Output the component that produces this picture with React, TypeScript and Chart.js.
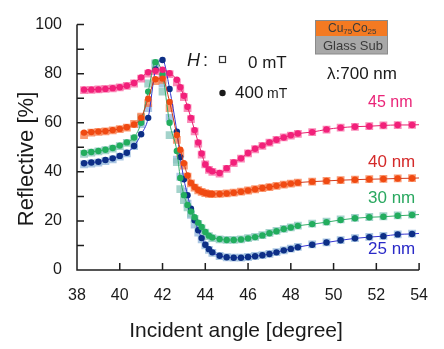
import { useEffect, useRef } from "react";
import { Chart, registerables } from "chart.js";

Chart.register(...registerables);

// Incident angles [degree]
const angles = [
  38.33, 38.67, 39, 39.33, 39.67, 40, 40.33, 40.67, 41, 41.33, 41.67, 42, 42.33, 42.67,
  42.83, 43, 43.17, 43.33, 43.5, 43.67, 43.83, 44, 44.17, 44.33,
  44.67, 45, 45.33, 45.67, 46, 46.33, 46.67, 47, 47.33, 47.67, 48, 48.33,
  49, 49.67, 50.33, 51, 51.67, 52.33, 53, 53.67, 54,
];

// 45 nm
const r45_400 = [
  73.5, 73.5, 73.6, 73.8, 74.1, 74.5, 75.1, 76.2, 78.5, 80.6, 81.2, 81.6, 80.2, 77.5,
  74.5, 71.0, 66.5, 62.0, 57.0, 52.0, 47.5, 43.0, 41.0, 40.2,
  39.5, 41.5, 43.8, 45.5, 47.7, 49.4, 50.7, 52.0, 53.1, 54.0, 54.9, 55.6,
  56.2, 57.3, 58.0, 58.4, 58.6, 58.9, 59.1, 59.1, 59.2,
];
const r45_0 = [
  73.3, 73.4, 73.6, 73.8, 74.0, 74.4, 75.0, 76.0, 78.0, 80.0, 81.0, 79.5, 79.8, 76.5,
  74.0, 70.5, 66.0, 61.5, 56.5, 51.5, 47.0, 43.0, 40.8, 40.0,
  39.3, 41.2, 43.6, 45.4, 47.5, 49.2, 50.6, 51.9, 53.0, 54.0, 54.8, 55.5,
  56.2, 57.2, 58.0, 58.3, 58.6, 58.9, 59.0, 59.1, null,
];
// 40 nm
const r40_400 = [
  56.0, 56.2, 56.4, 56.6, 57.0, 57.5, 58.2, 59.3, 62.0, 69.8, 77.7, 78.0, 68.5, 55.0,
  49.0, 43.5, 38.5, 35.5, 33.8, 32.6, 31.9, 31.4, 31.1, 31.0,
  31.0, 31.2, 31.5, 31.9, 32.4, 32.9, 33.4, 33.8, 34.3, 34.8, 35.2, 35.6,
  36.0, 36.3, 36.6, 36.8, 37.0, 37.1, 37.3, 37.4, 37.5,
];
const r40_0 = [
  55.0, 56.0, 56.3, 56.5, 56.9, 57.4, 58.0, 59.5, 62.5, 68.0, 77.0, 77.5, 66.0, 53.0,
  47.5, 42.5, 38.0, 35.3, 33.6, 32.5, 31.8, 31.3, 31.0, 30.9,
  31.0, 31.2, 31.5, 31.9, 32.4, 32.9, 33.4, 33.8, 34.3, 34.8, 35.2, 35.6,
  36.0, 36.3, 36.6, 36.8, 37.0, 37.1, 37.3, 37.4, null,
];
// 30 nm
const r30_400 = [
  47.8, 48.1, 48.5, 49.0, 49.7, 50.7, 52.0, 54.0, 60.0, 72.7, 84.7, 79.7, 60.0, 48.5,
  37.5, 30.5, 26.5, 23.8, 21.5, 19.3, 17.5, 15.5, 14.0, 13.2,
  12.6, 12.2, 12.2, 12.4, 12.9, 13.4, 14.1, 15.0, 15.8, 16.7, 17.3, 18.0,
  18.7, 19.5, 20.4, 21.1, 21.5, 21.7, 22.1, 22.4, 22.6,
];
const r30_0 = [
  47.3, 47.8, 48.3, 48.8, 49.5, 50.5, 51.8, 53.5, 62.0, 76.0, 84.3, 72.7, 55.0, 44.0,
  33.0, 28.5, 25.5, 23.0, 20.8, 18.8, 17.0, 15.2, 13.8, 13.0,
  12.5, 12.3, 12.3, 12.5, 13.0, 13.5, 14.2, 15.1, 15.9, 16.8, 17.4, 18.1,
  18.9, 19.7, 20.6, 21.2, 21.6, 21.9, 22.3, 22.6, null,
];
// 25 nm
const r25_400 = [
  43.5, 43.8, 44.1, 44.8, 45.5, 46.5, 47.8, 50.5, 55.3, 62.0, 81.7, 85.6, 73.8, 56.4,
  46.0, 37.0, 30.5, 25.0, 20.3, 16.2, 13.0, 10.3, 8.5, 7.2,
  5.8, 5.2, 5.0, 5.0, 5.3, 5.6, 6.0, 6.5, 7.2, 8.0, 8.6, 9.3,
  10.3, 11.2, 12.1, 12.9, 13.4, 13.8, 14.5, 14.7, 14.9,
];
const r25_0 = [
  43.0, 43.4, 43.8, 44.4, 45.1, 46.2, 47.5, 50.5, 59.5, 66.0, 84.0, 76.0, 62.0, 45.0,
  38.0, 32.0, 27.0, 22.5, 18.5, 15.2, 12.5, 10.0, 8.2, 7.0,
  5.7, 5.2, 5.0, 5.0, 5.3, 5.7, 6.1, 6.6, 7.3, 8.0, 8.7, 9.4,
  10.4, 11.3, 12.2, 13.0, 13.5, 13.9, 14.5, 14.8, null,
];

const thicknessLabels = ["45 nm", "40 nm", "30 nm", "25 nm"];
const labelAt = [103, 162, 198.5, 249.5]; // label vertical centres, in px
const xTicks = [38, 40, 42, 44, 46, 48, 50, 52, 54];
const yTicks = [0, 20, 40, 60, 80, 100];

const FONT = '"Liberation Sans", Arial, sans-serif';

const series = [
  { v400: r45_400, v0: r45_0, dot: "#f2207a", sq: "rgba(248,100,160,0.75)", line: "#e8206e", text: "#ea2478" },
  { v400: r40_400, v0: r40_0, dot: "#f04a12", sq: "rgba(248,120,70,0.75)", line: "#d23a1c", text: "#d42a2a" },
  { v400: r30_400, v0: r30_0, dot: "#22ad5e", sq: "rgba(140,200,190,0.8)", line: "#34ad6a", text: "#2aa860" },
  { v400: r25_400, v0: r25_0, dot: "#0d2f86", sq: "rgba(150,185,220,0.8)", line: "#3535d0", text: "#2a2ac8" },
];

const pts = (vals: (number | null)[]) => angles.map((a, i) => ({ x: a, y: vals[i] }));

const overlay = {
  id: "overlay",
  afterDraw(chart: any) {
    const { ctx } = chart;
    const xs = chart.scales.x;
    const ys = chart.scales.y;
    const x0 = xs.getPixelForValue(38);
    const x1 = xs.getPixelForValue(54);
    const y0 = ys.getPixelForValue(0);
    const y1 = ys.getPixelForValue(100);
    ctx.save();
    ctx.strokeStyle = "#1e1e1e";
    ctx.lineWidth = 1.5;
    ctx.beginPath();
    ctx.moveTo(x0, y1);
    ctx.lineTo(x0, y0);
    ctx.lineTo(x1, y0);
    for (let v = 10; v <= 100; v += 10) {
      const py = ys.getPixelForValue(v);
      ctx.moveTo(x0, py);
      ctx.lineTo(x0 + 7, py);
    }
    xTicks.slice(1).forEach((v) => {
      const px = xs.getPixelForValue(v);
      ctx.moveTo(px, y0);
      ctx.lineTo(px, y0 - 7);
    });
    ctx.stroke();

    // axis titles
    ctx.fillStyle = "#1a1a1a";
    ctx.textAlign = "center";
    ctx.textBaseline = "middle";
    ctx.font = `21px ${FONT}`;
    ctx.fillText("Incident angle [degree]", (x0 + x1) / 2 - 12, 331);
    ctx.save();
    ctx.translate(27, 159);
    ctx.rotate(-Math.PI / 2);
    ctx.font = `22px ${FONT}`;
    ctx.fillText("Reflective [%]", 0, 0);
    ctx.restore();

    // thickness labels
    ctx.textAlign = "left";
    thicknessLabels.forEach((t, i) => {
      ctx.fillStyle = series[i].text;
      ctx.font = `${i === 0 ? 16 : 17}px ${FONT}`;
      ctx.fillText(t, 368, labelAt[i]);
    });

    // sample stack box
    ctx.fillStyle = "#f47a22";
    ctx.fillRect(315.5, 20.5, 72, 15.5);
    ctx.fillStyle = "#a8a8a8";
    ctx.fillRect(315.5, 36, 72, 18);
    ctx.strokeStyle = "#8a8a8a";
    ctx.lineWidth = 1;
    ctx.strokeRect(315.5, 20.5, 72, 33.5);
    ctx.fillStyle = "#3a3a3a";
    let cx = 328;
    const part = (s: string, size: number, dy: number) => {
      ctx.font = `${size}px ${FONT}`;
      ctx.fillText(s, cx, 29 + dy);
      cx += ctx.measureText(s).width;
    };
    part("Cu", 12, 0);
    part("75", 8, 3);
    part("Co", 12, 0);
    part("25", 8, 3);
    ctx.font = `13px ${FONT}`;
    ctx.fillText("Glass Sub", 323, 46);

    ctx.fillStyle = "#1a1a1a";
    ctx.font = `17px ${FONT}`;
    ctx.fillText("\u03bb:700 nm", 327, 74);

    // field legend
    ctx.font = `italic 18px ${FONT}`;
    ctx.fillText("H", 187, 61);
    ctx.font = `18px ${FONT}`;
    ctx.fillText(":", 203, 61);
    ctx.strokeStyle = "#333";
    ctx.lineWidth = 1.2;
    ctx.strokeRect(219.5, 56.5, 6, 6);
    ctx.font = `17px ${FONT}`;
    ctx.fillText("0 mT", 248, 63);
    ctx.beginPath();
    ctx.arc(222.5, 93, 3.2, 0, Math.PI * 2);
    ctx.fill();
    ctx.fillText("400", 235, 93);
    ctx.font = `14px ${FONT}`;
    ctx.fillText("mT", 267, 94);
    ctx.restore();
  },
};

export default function App() {
  const ref = useRef<HTMLCanvasElement>(null);
  useEffect(() => {
    if (!ref.current) return;
    const datasets: any[] = [];
    series.forEach((s) => {
      datasets.push({
        data: pts(s.v400),
        showLine: true,
        borderColor: s.line,
        borderWidth: 1,
        cubicInterpolationMode: "monotone",
        pointStyle: "circle",
        pointRadius: (c: any) => (c.dataIndex === angles.length - 1 ? 0 : 3.2),
        pointBackgroundColor: s.dot,
        pointBorderWidth: 0,
        order: 0,
      });
      datasets.push({
        data: pts(s.v0),
        showLine: false,
        pointStyle: "rect",
        pointRadius: 5.5,
        pointBackgroundColor: s.sq,
        pointBorderWidth: 0,
        order: 1,
      });
    });
    const chart = new Chart(ref.current, {
      type: "scatter",
      data: { datasets },
      options: {
        animation: false,
        responsive: false,
        devicePixelRatio: 1,
        layout: { padding: { top: 17, right: 22, left: 0, bottom: 0 } },
        plugins: { legend: { display: false }, tooltip: { enabled: false } },
        scales: {
          x: {
            type: "linear",
            min: 38,
            max: 54,
            afterFit: (s: any) => { s.height = 79; },
            afterBuildTicks: (s: any) => { s.ticks = xTicks.map((v) => ({ value: v })); },
            grid: { display: false, drawTicks: false },
            border: { display: false },
            ticks: { color: "#1a1a1a", font: { family: FONT, size: 16 }, padding: 16 },
          },
          y: {
            type: "linear",
            min: 0,
            max: 100,
            afterFit: (s: any) => { s.width = 77; },
            afterBuildTicks: (s: any) => { s.ticks = yTicks.map((v) => ({ value: v })); },
            grid: { display: false, drawTicks: false },
            border: { display: false },
            ticks: { color: "#1a1a1a", font: { family: FONT, size: 16 }, padding: 15 },
          },
        },
      },
      plugins: [overlay],
    });
    return () => chart.destroy();
  }, []);
  return (
    <div style={{ position: "absolute", left: 0, top: 0, width: 444, height: 349, background: "#fff" }}>
      <canvas ref={ref} width={444} height={349} />
    </div>
  );
}
